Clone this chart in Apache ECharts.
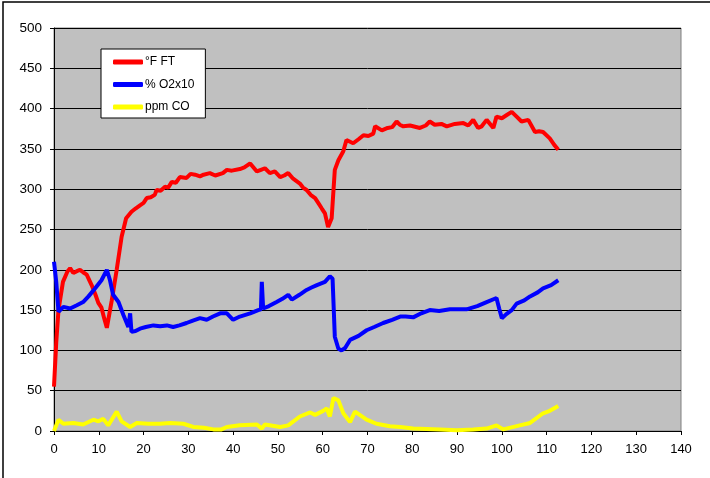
<!DOCTYPE html>
<html><head><meta charset="utf-8">
<script src="https://cdn.jsdelivr.net/npm/echarts@6/dist/echarts.min.js"></script>
<style>html,body{margin:0;padding:0;background:#fff;}#c{width:710px;height:478px;}</style>
</head><body><div id="c"></div>
<script>
var seriesNames = ['°F FT', '% O2x10', 'ppm CO'];
var xTicks = [0,10,20,30,40,50,60,70,80,90,100,110,120,130,140];
var yTicks = [0,50,100,150,200,250,300,350,400,450,500];

var ftX = [0,0.5,1,2,3,3.6,4.3,5,5.8,6.5,7.3,8.4,9.2,9.9,10.6,11.2,11.8,12.9,14,15.1,16.1,17.3,18.2,19.2,20,20.7,21.6,22.5,22.9,23.8,24.8,25.5,26.3,27.2,28.1,29.6,30.5,31.5,32.6,33.4,34.8,36,37.7,38.6,39.7,41.5,42.5,43.8,45.3,46.2,47.1,48.2,49.3,50.5,51.4,52.3,53.4,54.9,55.6,56.4,57.3,58.3,59,59.8,60.5,61.2,62,62.7,63.5,64.6,65.3,66.8,68,69.1,70.2,71.3,71.7,73.2,74.5,75.5,76.5,77.2,78,79.5,81.7,83,83.9,85,86.5,87.7,89.5,91.4,92.5,93.6,94.7,95.5,96.6,98.1,98.8,100,101.1,102.2,103.3,104.4,105.9,107.4,108.3,109.2,110.7,111.7,112.6];
var ftY = [55,110,150,185,198,202,196,198,200,197,194,181,170,159,153,140,128,162,200,241,264,272,276,280,283,289,290,293,299,298,303,302,309,308,315,314,319,318,316,318,320,317,320,324,323,325,327,332,322,324,326,320,322,315,317,320,313,307,302,299,293,289,283,276,270,253,264,324,336,347,361,357,362,367,366,369,378,373,376,377,384,380,378,379,376,379,384,380,381,378,381,382,379,386,376,378,386,376,390,388,392,396,390,384,386,371,372,371,363,355,349];

var o2X = [0,0.5,1,2.1,3.6,5.1,6.5,7.7,9.2,10.6,11.8,12.5,13.2,14.4,15.5,16.6,17,17.3,18.2,19.2,20.5,22.2,23.7,25.2,26.6,28,29.6,31,32.6,34.1,35.5,37.1,38.6,40,41.5,43.8,45.6,46.2,46.4,46.7,48,49.7,51,52.3,53.1,54.8,56.4,57.5,58.7,60.5,61.6,62.2,62.7,63.5,64.2,65,66.1,68,69.8,71.5,73.5,75.5,77.3,78.5,80.2,82,83.9,86,88.4,90,92.1,94.5,96.6,98.8,99.4,100,101,102.2,103.3,105,106.3,108,109.2,111,112.6];
var o2Y = [210,185,148,154,152,156,160,167,177,187,200,187,169,160,144,129,146,123,124,127,129,131,130,131,129,131,134,137,140,138,142,146,146,138,142,146,150,151,185,152,155,160,164,169,163,169,175,178,181,185,192,189,117,102,100,103,113,118,125,129,134,138,142,142,141,146,150,149,151,151,151,155,160,165,152,140,145,150,158,162,167,172,177,181,187];

var coX = [0,1,2.1,4.3,6.5,8.8,9.9,11,12.1,14,15.1,17,18.5,21,23.7,25.9,28.9,31.1,33.5,35.6,37.4,38.6,41.5,45.3,46.4,47.1,50.5,52.3,54.9,57.2,58.3,60.1,60.9,61.6,62.4,63.5,64.6,66.1,67.2,69.8,72,75,77.3,80.2,86.2,89.9,93.6,96.6,98.8,100.3,104,106.3,109.2,110.7,112.6];
var coY = [0,14,9,10,8,14,12,15,7,24,12,5,10,9,9,10,9,5,4,2,2,5,7,8,3,8,5,7,18,23,20,25,28,18,41,38,22,11,24,14,9,6,5,3,2,1,2,3,7,2,7,10,22,25,31];

function pairs(xs, ys){ return xs.map(function(x,i){ return [x, ys[i]]; }); }

var chart = echarts.init(document.getElementById('c'), null, {renderer:'canvas'});
var font = 'Liberation Sans, Arial, sans-serif';
function mk(name, color, xs, ys){
  return {name:name, type:'line', data:pairs(xs,ys), symbol:'none', smooth:false,
    lineStyle:{color:color, width:4}, itemStyle:{color:color}, animation:false};
}
chart.setOption({
  animation:false,
  backgroundColor:'#ffffff',
  graphic:[{type:'rect', shape:{x:3,y:2,width:720,height:500}, style:{fill:'none', stroke:'#000', lineWidth:1.5}, silent:true}],
  grid:{left:54, right:29, top:28, bottom:47, show:true, backgroundColor:'#C0C0C0', borderColor:'#808080', borderWidth:1},
  legend:{left:101, top:49, orient:'vertical', backgroundColor:'#fff', borderColor:'#000', borderWidth:1,
    padding:[6,11,4,12], itemWidth:30, itemHeight:5, itemGap:8.5, icon:'roundRect',
    textStyle:{fontFamily:font, fontSize:12, lineHeight:14, color:'#000', padding:[0,0,0,-3]},
    data:seriesNames},
  xAxis:{type:'value', min:0, max:140, interval:10,
    axisLine:{show:true, lineStyle:{color:'#000', width:1}},
    axisTick:{show:true, length:4, lineStyle:{color:'#000'}},
    axisLabel:{margin:12, fontFamily:font, fontSize:13, color:'#000', formatter:function(v){return xTicks.indexOf(v)>=0? String(v):'';}},
    splitLine:{show:false}},
  yAxis:{type:'value', min:0, max:500, interval:50,
    axisLine:{show:true, lineStyle:{color:'#000', width:1}},
    axisTick:{show:true, length:4, lineStyle:{color:'#000'}},
    axisLabel:{margin:12, fontFamily:font, fontSize:13.5, color:'#000', formatter:function(v){return yTicks.indexOf(v)>=0? String(v):'';}},
    splitLine:{show:true, lineStyle:{color:'#000', width:1}}},
  series:[
    mk(seriesNames[0], '#FF0000', ftX, ftY),
    mk(seriesNames[1], '#0000FF', o2X, o2Y),
    mk(seriesNames[2], '#FFFF00', coX, coY)
  ]
});
</script></body></html>
